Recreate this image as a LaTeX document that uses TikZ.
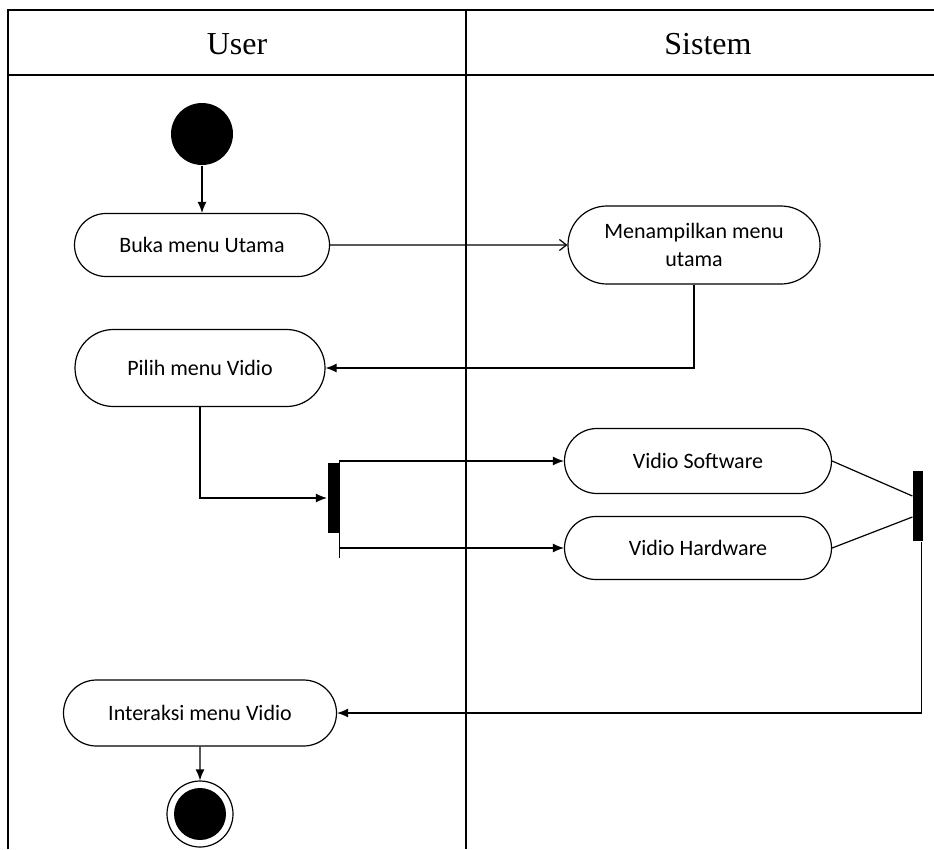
\documentclass[tikz,border=0pt]{standalone}
\usepackage{fontspec}
\setmainfont{Liberation Serif}
\newfontfamily\actfont{Carlito}
\usetikzlibrary{arrows.meta,shapes.misc}

\begin{document}
\begin{tikzpicture}[x=1pt, y=-1pt, >={Latex[length=11pt,width=9pt]}, line width=1.2pt,
  act/.style={rounded rectangle, draw, inner sep=0pt, align=center,
    font=\actfont\fontsize{22}{28}\selectfont},
  bar/.style={rectangle, fill=black, inner sep=0pt, minimum width=11pt, minimum height=70pt},
  lane/.style={font=\fontsize{32}{36}\selectfont}]

\useasboundingbox (0,0) rectangle (934,849);

% swimlanes
\draw[line width=1.8pt] (8,849) -- (8,10) -- (934,10);
\draw[line width=1.8pt] (8,75) -- (934,75);
\draw (466,10) -- (466,849);
\node[lane] (user) at (237,44) {User};
\node[lane] (sistem) at (708,44) {Sistem};

% activities
\node[circle, fill=black, minimum size=62pt, inner sep=0pt] (start) at (202,134) {};
\node[act, minimum width=255pt, minimum height=63pt] (buka) at (202,245) {Buka menu Utama};
\node[act, minimum width=252pt, minimum height=78pt] (menu) at (694,245) {Menampilkan menu\\utama};
\node[act, minimum width=250pt, minimum height=77pt] (pilih) at (200,368) {Pilih menu Vidio};
\node[bar] (fork) at (333,498) {};
\node[act, minimum width=267pt, minimum height=65pt] (soft) at (698,461) {Vidio Software};
\node[act, minimum width=267pt, minimum height=63pt] (hard) at (698,548) {Vidio Hardware};
\node[bar, minimum width=10pt] (join) at (918,506) {};
\node[act, minimum width=273pt, minimum height=66pt] (inter) at (200,713) {Interaksi menu Vidio};
\node[circle, draw, minimum size=66pt, inner sep=0pt,
  path picture={\fill (path picture bounding box.center) circle (26pt);}] (end) at (200,814) {};

% flows
\draw[->] (start) -- (buka);
\draw[-{Straight Barb[length=7pt,width=11pt]}] (buka) -- (menu);
\draw[->] (menu.south) |- (pilih.east);
\draw[->] (pilih.south) |- (fork.west);
\draw (fork.east |- soft.west) -- ++(0,97);
\draw[->] (fork.east |- soft.west) -- (soft.west);
\draw[->] (fork.east |- hard.west) -- (hard.west);
\draw (soft.east) -- ([yshift=10pt]join.west);
\draw (hard.east) -- ([yshift=-11pt]join.west);
\draw[->] ([xshift=-2pt]join.south east) |- (inter.east);
\draw[->] (inter) -- (end);

\end{tikzpicture}
\end{document}
